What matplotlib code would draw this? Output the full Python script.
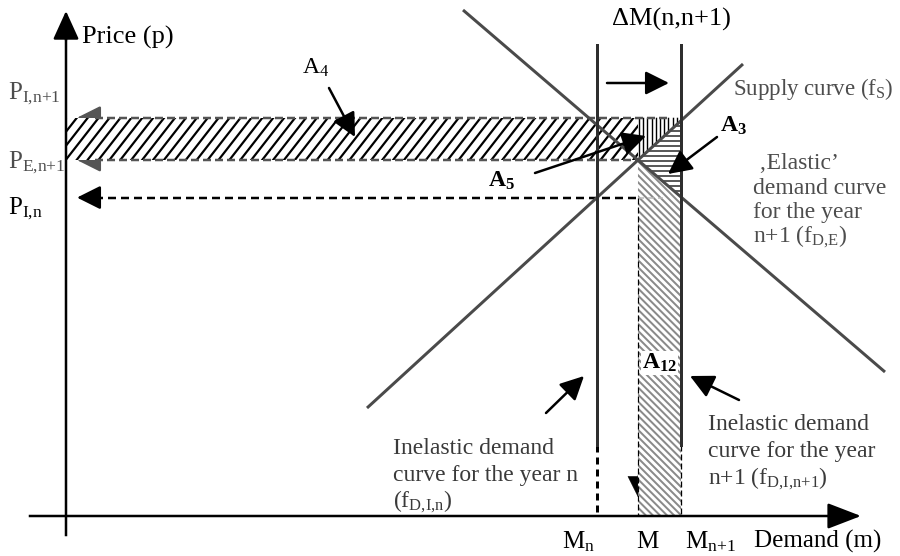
import numpy as np
import matplotlib
matplotlib.use("Agg")
import matplotlib.pyplot as plt
from matplotlib.patches import Polygon
from matplotlib.collections import LineCollection

plt.rcParams['font.family'] = ['Liberation Serif', 'DejaVu Serif']
plt.rcParams['mathtext.fontset'] = 'custom'
plt.rcParams['mathtext.rm'] = 'Liberation Serif'
plt.rcParams['mathtext.it'] = 'Liberation Serif:italic'
plt.rcParams['mathtext.bf'] = 'Liberation Serif:bold'
plt.rcParams['lines.scale_dashes'] = False

# ---------------- schematic data (diagram units, y grows downward) ----------------
supply_x = [367, 743]
supply_y = [408, 64]
demand_x = [463, 885]
demand_y = [10, 372]
M_n = 597
M_next = 681
origin_x = 66
axis_y = 516
inelastic_top = 45
inelastic_solid_end = 445

tick_labels_x = ['M$_{\\text{n}}$', 'M', 'M$_{\\text{n+1}}$']
price_labels = ['P$_{\\text{I,n+1}}$', 'P$_{\\text{E,n+1}}$', 'P$_{\\text{I,n}}$']

# derived economic points
s_slope = (supply_y[1] - supply_y[0]) / (supply_x[1] - supply_x[0])
d_slope = (demand_y[1] - demand_y[0]) / (demand_x[1] - demand_x[0])
def supply(x):
    return supply_y[0] + s_slope * (x - supply_x[0])
def demand(x):
    return demand_y[0] + d_slope * (x - demand_x[0])
M_eq = (demand_y[0] - d_slope * demand_x[0] - supply_y[0] + s_slope * supply_x[0]) / (s_slope - d_slope)
P_E = supply(M_eq)
P_I_n = supply(M_n)
P_I_next = supply(M_next) - 3

fig = plt.figure(figsize=(9, 5.56), dpi=100)
ax = fig.add_axes([0, 0, 1, 1])
ax.set_xlim(0, 900)
ax.set_ylim(556, 0)
ax.axis('off')

PX = 72 / 100.0  # points per pixel
LINE_GRAY = '#4a4a4a'
TEXT_GRAY = '#4d4d4d'


def hatch_poly(verts, direction, spacing, color, lw, z):
    poly = Polygon(verts, closed=True, facecolor='white', edgecolor='none', zorder=z)
    ax.add_patch(poly)
    v = np.asarray(verts, float)
    d = np.asarray(direction, float)
    d = d / np.hypot(*d)
    n = np.array([-d[1], d[0]])
    proj = v @ n
    offs = np.arange(proj.min() - spacing, proj.max() + spacing, spacing)
    L = 2000
    c = v.mean(axis=0)
    c0 = c - n * (c @ n)
    segs = [[c0 + n * o - d * L, c0 + n * o + d * L] for o in offs]
    lc = LineCollection(segs, colors=color, linewidths=lw * PX, zorder=z + 0.1)
    lc.set_clip_path(poly)
    ax.add_collection(lc)


def arrow(p0, p1, color='black', lw=2.5, hl=0.9, hw=0.45, ms=16, z=7):
    ax.annotate('', xy=p1, xytext=p0,
                arrowprops=dict(arrowstyle=f'-|>,head_length={hl},head_width={hw}',
                                color=color, lw=lw * PX, shrinkA=0, shrinkB=0,
                                mutation_scale=ms),
                zorder=z)

# ---- arrow heads at left of the price lines (partially hidden by hatch) ----
arrow((100, P_I_next), (77, P_I_next), color='#555555', lw=2.5, z=1)
arrow((100, P_E), (77, P_E), color='#555555', lw=2.5, z=1)
arrow((95, P_I_n), (77, P_I_n), color='black', lw=2.5, z=1)
# small arrowhead at bottom of M
arrow((M_eq, 475), (M_eq, 497), color='black', lw=0.5, z=1)

# ---- hatched areas ----
# A4
hatch_poly([(origin_x, P_I_next), (M_eq, P_I_next), (M_eq, P_E), (origin_x, P_E)],
           (1, -1.28), 8.6, 'black', 2.2, 2)
# A5 (vertical)
hatch_poly([(M_eq, P_I_next), (M_next, P_I_next), (M_next, supply(M_next)), (M_eq, P_E)],
           (0, 1), 4.2, 'black', 1.4, 2)
# A3 (horizontal)
hatch_poly([(M_eq, P_E), (M_next, supply(M_next)), (M_next, demand(M_next))],
           (1, 0), 5.0, '#333333', 1.6, 2)
# A12
hatch_poly([(M_eq, P_E), (M_next, demand(M_next)), (M_next, axis_y), (M_eq, axis_y)],
           (1, 1), 5.0, '#8a8a8a', 2.0, 2)

# ---- dashed lines ----
ax.plot([95, 668], [P_I_next, P_I_next], color='#555555', lw=2.5 * PX,
        dashes=(8 * PX, 4 * PX), zorder=4)
ax.plot([95, M_eq], [P_E, P_E], color='#555555', lw=2.5 * PX,
        dashes=(8 * PX, 4 * PX), zorder=4)
ax.plot([95, M_eq], [P_I_n, P_I_n], color='black', lw=2.5 * PX,
        dashes=(8 * PX, 5 * PX), zorder=4)
ax.plot([M_eq, M_eq + 25], [P_I_n, P_I_n], color='#bbbbbb', lw=1.5 * PX,
        dashes=(6 * PX, 4 * PX), zorder=4)
ax.plot([M_eq, M_eq], [P_I_n, axis_y], color='black', lw=1.2 * PX,
        dashes=(6 * PX, 3 * PX), zorder=4)
ax.plot([M_n, M_n], [inelastic_solid_end, axis_y], color='black', lw=3 * PX,
        dashes=(7 * PX, 5 * PX), zorder=4)
ax.plot([M_next, M_next], [inelastic_solid_end, axis_y], color='black', lw=1.3 * PX,
        dashes=(6 * PX, 3 * PX), zorder=4)

# ---- curves ----
ax.plot(supply_x, supply_y, color=LINE_GRAY, lw=3 * PX, solid_capstyle='butt', zorder=5)
ax.plot(demand_x, demand_y, color=LINE_GRAY, lw=3 * PX, solid_capstyle='butt', zorder=5)
ax.plot([M_n, M_n], [inelastic_top, inelastic_solid_end], color='#2e2e2e', lw=3 * PX, zorder=5)
ax.plot([M_next, M_next], [inelastic_top, inelastic_solid_end], color='#2e2e2e', lw=3 * PX, zorder=5)

# ---- axes ----
ax.plot([origin_x, origin_x], [535, 30], color='black', lw=2.5 * PX, zorder=6)
arrow((origin_x, 40), (origin_x, 11), lw=2.5, hl=1.1, hw=0.5, ms=16, z=6)
ax.plot([30, 840], [axis_y, axis_y], color='black', lw=2.5 * PX, zorder=6)
arrow((830, axis_y), (861, axis_y), lw=2.5, hl=1.3, hw=0.5, ms=16, z=6)

# ---- annotation arrows ----
arrow((607, 83), (669, 83))
arrow((329, 88), (355, 137))
arrow((535, 173), (646, 136))
arrow((717, 137), (668, 174))
arrow((546, 413), (584, 376))
arrow((739, 400), (690, 376))

# ---- texts ----
def txt(x, y, s, size=17, color='black', weight='normal', ha='left', **kw):
    ax.text(x, y, s, fontsize=size, color=color, ha=ha, va='baseline',
            fontweight=weight, zorder=8, **kw)

txt(82, 44, 'Price (p)', size=19)
txt(8, 99, price_labels[0], size=18, color=TEXT_GRAY)
txt(8, 168, price_labels[1], size=18, color=TEXT_GRAY)
txt(8, 214, price_labels[2], size=18)
txt(612, 26, '\u0394M(n,n+1)', size=19)
txt(733, 95, 'Supply curve (f$_{\\text{S}}$)', size=16.5, color=TEXT_GRAY)

elastic_lines = [' \u201aElastic\u2019', 'demand curve', 'for the year', 'n+1 (f$_{\\text{D,E}}$)']
for i, s in enumerate(elastic_lines):
    txt(753, 169 + 24.5 * i, s, size=17, color=TEXT_GRAY)

inel_next = ['Inelastic demand', 'curve for the year', 'n+1 (f$_{\\text{D,I,n+1}}$)']
for i, s in enumerate(inel_next):
    txt(708, 430 + 27 * i, s, size=17, color='#3a3a3a')

inel_n = ['Inelastic demand', 'curve for the year n', '(f$_{\\text{D,I,n}}$)']
for i, s in enumerate(inel_n):
    txt(393, 454 + 26.5 * i, s, size=17, color='#3a3a3a')

txt(578, 548, tick_labels_x[0], size=18, ha='center')
txt(647, 548, tick_labels_x[1], size=18, ha='center')
txt(710, 548, tick_labels_x[2], size=18, ha='center')
txt(754, 548, 'Demand (m)', size=18)

txt(302, 74, 'A$_{\\text{4}}$', size=17)
txt(488, 187, '$\\mathbf{A_{5}}$', size=17)
txt(720, 132, '$\\mathbf{A_{3}}$', size=17)
ax.text(642, 369, '$\\mathbf{A_{12}}$', fontsize=17, va='baseline', ha='left', zorder=8,
        bbox=dict(facecolor='white', edgecolor='none', pad=0.5))

fig.savefig('out.png', dpi=100)
